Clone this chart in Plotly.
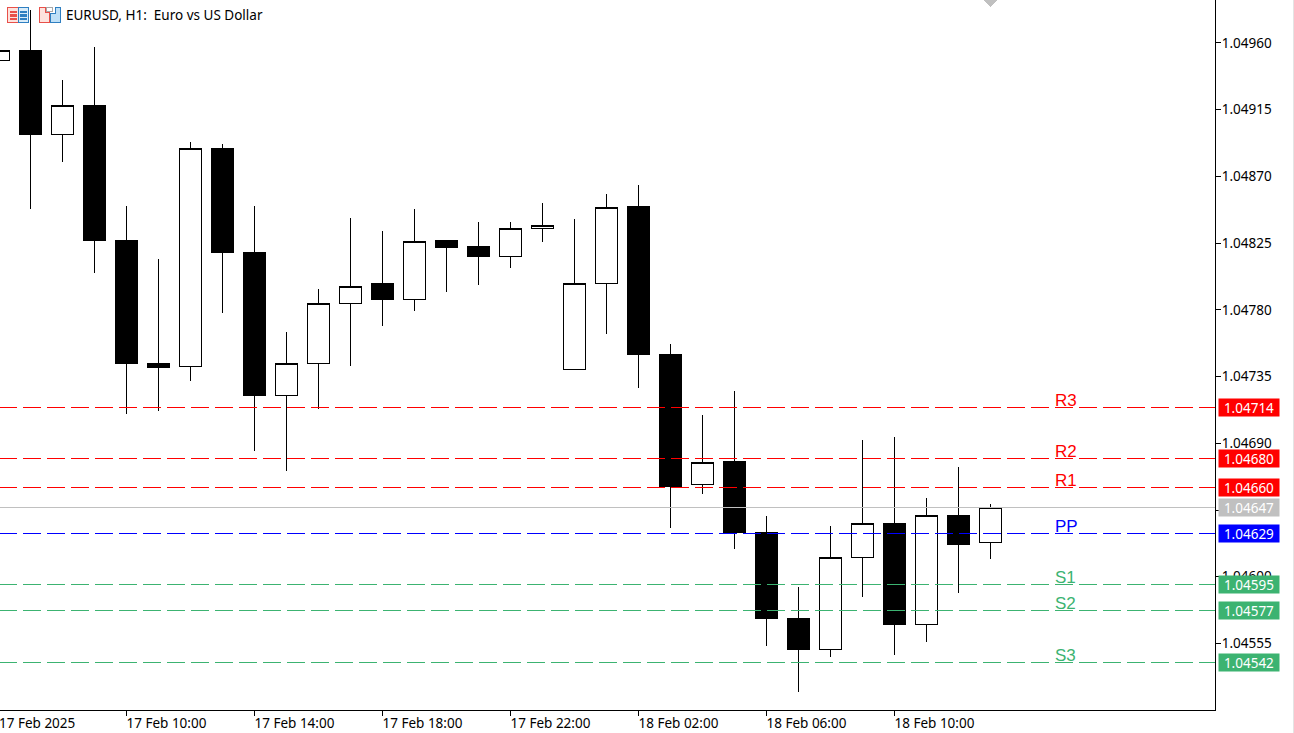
import plotly.graph_objects as go
import pandas as pd

# EURUSD H1 bars
times = ["2025-02-17 06:00", "2025-02-17 07:00", "2025-02-17 08:00", "2025-02-17 09:00",
         "2025-02-17 10:00", "2025-02-17 11:00", "2025-02-17 12:00", "2025-02-17 13:00",
         "2025-02-17 14:00", "2025-02-17 15:00", "2025-02-17 16:00", "2025-02-17 17:00",
         "2025-02-17 18:00", "2025-02-17 19:00", "2025-02-17 20:00", "2025-02-17 21:00",
         "2025-02-17 22:00", "2025-02-17 23:00", "2025-02-18 00:00", "2025-02-18 01:00",
         "2025-02-18 02:00", "2025-02-18 03:00", "2025-02-18 04:00", "2025-02-18 05:00",
         "2025-02-18 06:00", "2025-02-18 07:00", "2025-02-18 08:00", "2025-02-18 09:00",
         "2025-02-18 10:00", "2025-02-18 11:00", "2025-02-18 12:00", "2025-02-18 13:00"]
opens = [1.04948, 1.04955, 1.04898, 1.04918, 1.04827, 1.04744, 1.04742, 1.04889,
         1.04819, 1.04722, 1.04744, 1.04784, 1.04798, 1.04787, 1.04827, 1.04823,
         1.04816, 1.04835, 1.04740, 1.04798, 1.04850, 1.04750, 1.04662, 1.04678,
         1.04630, 1.04572, 1.04551, 1.04613, 1.04636, 1.04568, 1.04641, 1.04623]
highs = [1.04955, 1.04982, 1.04935, 1.04957, 1.04850, 1.04814, 1.04893, 1.04892,
         1.04850, 1.04765, 1.04794, 1.04842, 1.04833, 1.04848, 1.04827, 1.04839,
         1.04839, 1.04852, 1.04841, 1.04858, 1.04864, 1.04757, 1.04709, 1.04725,
         1.04641, 1.04593, 1.04634, 1.04692, 1.04694, 1.04653, 1.04674, 1.04649]
lows = [1.04948, 1.04848, 1.04880, 1.04805, 1.04710, 1.04712, 1.04732, 1.04778,
        1.04685, 1.04671, 1.04713, 1.04742, 1.04769, 1.04779, 1.04792, 1.04797,
        1.04808, 1.04826, 1.04740, 1.04764, 1.04727, 1.04633, 1.04656, 1.04619,
        1.04553, 1.04522, 1.04546, 1.04586, 1.04547, 1.04556, 1.04589, 1.04612]
closes = [1.04955, 1.04898, 1.04918, 1.04827, 1.04744, 1.04741, 1.04889, 1.04819,
          1.04722, 1.04744, 1.04784, 1.04796, 1.04787, 1.04826, 1.04822, 1.04816,
          1.04835, 1.04837, 1.04798, 1.04849, 1.04750, 1.04661, 1.04677, 1.04630,
          1.04572, 1.04551, 1.04613, 1.04636, 1.04568, 1.04641, 1.04622, 1.04647]

# pivot levels
level_names = ["R3", "R2", "R1", "PP", "S1", "S2", "S3"]
level_values = [1.04714, 1.04680, 1.04660, 1.04629, 1.04595, 1.04577, 1.04542]
level_colors = ["#ff0000", "#ff0000", "#ff0000", "#0000ff", "#3cb371", "#3cb371", "#3cb371"]
last_price = 1.04647

price_ticks = [1.04960, 1.04915, 1.04870, 1.04825, 1.04780, 1.04735, 1.04690, 1.04645, 1.04600, 1.04555]
time_ticks = ["2025-02-17 10:00", "2025-02-17 14:00", "2025-02-17 18:00", "2025-02-17 22:00",
              "2025-02-18 02:00", "2025-02-18 06:00", "2025-02-18 10:00"]
time_labels = ["17 Feb 10:00", "17 Feb 14:00", "17 Feb 18:00", "17 Feb 22:00",
               "18 Feb 02:00", "18 Feb 06:00", "18 Feb 10:00"]

W, H = 1294, 733
PLOT_W, PLOT_H = 1215, 710
FONT = "Noto Sans"
FONT_SIZE = 13.5

# 32 px per hour, the 07:00 bar sits at x=30.5
hour_px = 32
t0 = pd.Timestamp("2025-02-17 07:00")
x_start = t0 - pd.Timedelta(hours=30.5 / hour_px)
x_end = t0 + pd.Timedelta(hours=(PLOT_W - 30.5) / hour_px)


def px(x):
    return x / PLOT_W


def py(y):
    return 1 - y / PLOT_H


def rect(x0, y0, x1, y1, line, fill="rgba(0,0,0,0)", width=1):
    return dict(type="rect", xref="paper", yref="paper", x0=px(x0), x1=px(x1), y0=py(y0), y1=py(y1),
                line=dict(color=line, width=width), fillcolor=fill, layer="above")


fig = go.Figure()
fig.add_trace(go.Candlestick(
    x=times, open=opens, high=highs, low=lows, close=closes,
    increasing=dict(line=dict(color="black", width=1), fillcolor="white"),
    decreasing=dict(line=dict(color="black", width=1), fillcolor="black"),
    showlegend=False, hoverinfo="skip",
))

# level lines go over the candles
for name, value, color in zip(level_names, level_values, level_colors):
    fig.add_trace(go.Scatter(x=[times[0], x_end], y=[value, value], mode="lines", showlegend=False,
                             line=dict(color=color, width=1, dash="18px,6px"), hoverinfo="skip"))
fig.add_trace(go.Scatter(x=[x_start, x_end], y=[last_price, last_price], mode="lines", showlegend=False,
                         line=dict(color="#c0c0c0", width=1), hoverinfo="skip"))

annotations = []
for name, value, color in zip(level_names, level_values, level_colors):
    annotations.append(dict(x="2025-02-18 15:00", y=value, xref="x", yref="y", text=name, showarrow=False,
                            xanchor="left", yanchor="bottom", yshift=-3.5, xshift=-1, borderpad=0,
                            font=dict(family="Liberation Sans", size=17, color=color)))
    annotations.append(dict(x=1, y=value, xref="paper", yref="y", text=f"{value:.5f}", showarrow=False,
                            xanchor="left", xshift=3, width=60, height=17, borderpad=0, align="center",
                            bgcolor=color, font=dict(family=FONT, size=FONT_SIZE, color="white")))
annotations.append(dict(x=1, y=last_price, xref="paper", yref="y", text=f"{last_price:.5f}", showarrow=False,
                        xanchor="left", xshift=3, width=60, height=17, borderpad=0, align="center",
                        bgcolor="#c0c0c0", font=dict(family=FONT, size=FONT_SIZE, color="white")))
annotations.append(dict(x=0, y=0, xref="paper", yref="paper", text="17 Feb 2025", showarrow=False,
                        xanchor="left", yanchor="top", yshift=-3, xshift=-2, borderpad=0,
                        font=dict(family=FONT, size=FONT_SIZE, color="black")))
annotations.append(dict(x=px(65), y=py(15), xref="paper", yref="paper", text="EURUSD, H1:  Euro vs US Dollar",
                        showarrow=False, xanchor="left", yanchor="middle", borderpad=0,
                        font=dict(family=FONT, size=FONT_SIZE, color="black")))

# window icons in the top left corner, the grey shift marker, the window edge
shapes = [
    rect(7.5, 7.5, 18, 22.5, "#e8504a", "#fde3de"),
    rect(18, 7.5, 28.5, 22.5, "#2f7fc1", "#d9ecf9"),
    rect(10, 11, 16, 12.5, "#e8504a", "#e8504a"),
    rect(10, 14.5, 16, 16, "#e8504a", "#e8504a"),
    rect(10, 18, 16, 19.5, "#e8504a", "#e8504a"),
    rect(20, 11, 26, 12.5, "#2f7fc1", "#2f7fc1"),
    rect(20, 14.5, 26, 16, "#2f7fc1", "#2f7fc1"),
    rect(20, 18, 26, 19.5, "#2f7fc1", "#2f7fc1"),
    dict(type="path", xref="paper", yref="paper", layer="above",
         path=f"M {px(39.5)} {py(7.5)} L {px(45)} {py(7.5)} L {px(45)} {py(12)} L {px(49)} {py(12)} "
              f"L {px(49)} {py(22.5)} L {px(39.5)} {py(22.5)} Z",
         line=dict(color="#e8504a", width=1), fillcolor="#fde3de"),
    dict(type="path", xref="paper", yref="paper", layer="above",
         path=f"M {px(50)} {py(22.5)} L {px(50)} {py(13)} L {px(55)} {py(13)} L {px(55)} {py(7.5)} "
              f"L {px(60.5)} {py(7.5)} L {px(60.5)} {py(22.5)} Z",
         line=dict(color="#2f7fc1", width=1), fillcolor="#bfe0f7"),
    rect(46, 7.5, 52, 11, "#a8a8a8", "#ffffff"),
    dict(type="path", xref="paper", yref="paper", layer="above",
         path=f"M {px(983)} {py(0)} L {px(997)} {py(0)} L {px(990)} {py(7)} Z",
         line=dict(width=0), fillcolor="#c0c0c0"),
    dict(type="line", xref="paper", yref="paper", x0=px(1293.5), x1=px(1293.5), y0=py(0), y1=py(H),
         line=dict(color="#e4e4e4", width=1), layer="above"),
]

fig.update_layout(
    width=W, height=H, margin=dict(l=0, r=W - PLOT_W, t=0, b=H - PLOT_H),
    paper_bgcolor="white", plot_bgcolor="white", showlegend=False,
    boxgap=0, boxgroupgap=0.3125,
    font=dict(family=FONT, size=FONT_SIZE, color="black"),
    annotations=annotations, shapes=shapes,
    xaxis=dict(type="date", range=[x_start, x_end], rangeslider=dict(visible=False), showgrid=False,
               zeroline=False, showline=True, linecolor="black", linewidth=1, ticks="outside", ticklen=5,
               tickcolor="black", tickvals=time_ticks, ticktext=time_labels, ticklabelposition="outside right",
               ticklabelshift=-1, ticklabelstandoff=1, tickangle=0,
               tickfont=dict(family=FONT, size=FONT_SIZE, color="black")),
    yaxis=dict(range=[1.045101, 1.049890], side="right", showgrid=False, zeroline=False, showline=True,
               linecolor="black", linewidth=1, ticks="outside", ticklen=5, tickcolor="black",
               tickvals=price_ticks, ticktext=[f"{v:.5f}" for v in price_ticks], ticklabelstandoff=-2,
               tickfont=dict(family=FONT, size=FONT_SIZE, color="black")),
)

# crisp 1px lines like the terminal draws them
crisp = ("var s=document.createElement('style');"
         "s.textContent='.main-svg path{shape-rendering:crispEdges}';"
         "document.head.appendChild(s);"
         "document.body.style.margin='0';document.body.style.overflow='hidden';")
fig.write_html("out.html", config={"displayModeBar": False}, post_script=crisp)
